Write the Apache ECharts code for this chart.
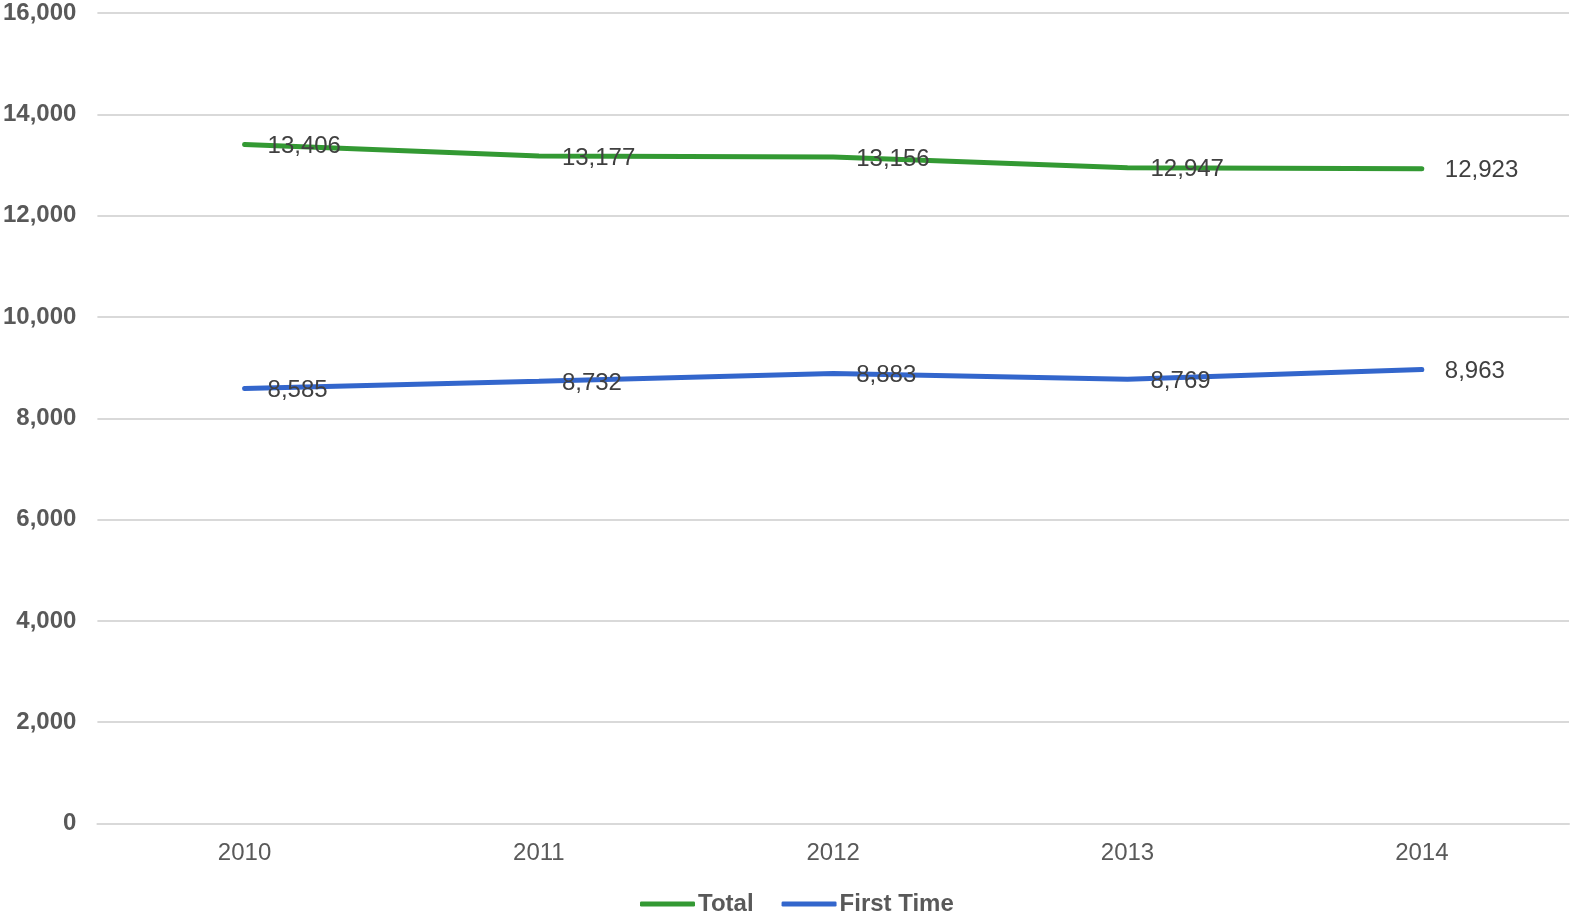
<!DOCTYPE html>
<html>
<head>
<meta charset="utf-8">
<script src="https://cdn.jsdelivr.net/npm/echarts@6/dist/echarts.min.js"></script>
<style>
html,body{margin:0;padding:0;background:#fff;}
#chart{width:1571px;height:915px;}
</style>
</head>
<body>
<div id="chart"></div>
<script>
const categories = ['2010', '2011', '2012', '2013', '2014'];
const totalValues = [13406, 13177, 13156, 12947, 12923];
const firstTimeValues = [8585, 8732, 8883, 8769, 8963];
const seriesNames = ['Total', 'First Time'];
const seriesColors = ['#339933', '#3366cc'];

const chart = echarts.init(document.getElementById('chart'), null, {renderer: 'canvas'});
const fontFamily = 'Liberation Sans, Arial, sans-serif';

function makeSeries(name, data, color) {
  return {
    name: name,
    type: 'line',
    data: data,
    symbol: 'circle',
    symbolSize: 0,
    showSymbol: true,
    smooth: false,
    lineStyle: {color: color, width: 5, cap: 'round'},
    itemStyle: {color: color},
    label: {
      show: true,
      position: 'right',
      distance: 23,
      offset: [0, 2],
      color: '#404040',
      fontSize: 24,
      fontFamily: fontFamily,
      formatter: p => p.value.toLocaleString('en-US')
    },
    emphasis: {disabled: true}
  };
}

chart.setOption({
  animation: false,
  backgroundColor: '#ffffff',
  grid: {left: 97, right: 2, top: 13, bottom: 91.5, containLabel: false},
  legend: {
    top: 887,
    left: 635,
    itemWidth: 55,
    itemHeight: 5,
    itemGap: 28,
    icon: 'roundRect',
    textStyle: {color: '#595959', fontSize: 24, fontWeight: 'bold', fontFamily: fontFamily, padding: [2, 0, 0, -2]},
    data: seriesNames
  },
  xAxis: {
    type: 'category',
    data: categories,
    boundaryGap: true,
    axisLine: {show: true, lineStyle: {color: '#d9d9d9', width: 2}},
    axisTick: {show: false},
    axisLabel: {color: '#595959', fontSize: 24, fontFamily: fontFamily, margin: 18}
  },
  yAxis: {
    type: 'value',
    min: 0,
    max: 16000,
    interval: 2000,
    axisLine: {show: false},
    axisTick: {show: false},
    splitLine: {lineStyle: {color: '#d9d9d9', width: 2}},
    axisLabel: {
      color: '#595959', fontSize: 24, fontWeight: 'bold', fontFamily: fontFamily, margin: 21,
      formatter: v => v.toLocaleString('en-US')
    }
  },
  series: [
    makeSeries(seriesNames[0], totalValues, seriesColors[0]),
    makeSeries(seriesNames[1], firstTimeValues, seriesColors[1])
  ]
});
</script>
</body>
</html>
